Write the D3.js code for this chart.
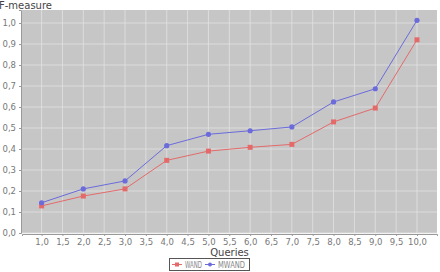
<!DOCTYPE html>
<html><head><meta charset="utf-8">
<script src="https://cdn.jsdelivr.net/npm/d3@7"></script>
<style>body{margin:0;background:#fff;}svg{display:block;}text{font-family:"DejaVu Sans",sans-serif;}</style>
</head><body>
<svg id="c" width="440" height="272"></svg>
<script>
const queries = [1,2,3,4,5,6,7,8,9,10];
const wand  = [0.129,0.176,0.210,0.346,0.390,0.408,0.422,0.529,0.595,0.920];
const mwand = [0.144,0.210,0.248,0.416,0.470,0.487,0.505,0.624,0.687,1.013];
const xTicks = [1,1.5,2,2.5,3,3.5,4,4.5,5,5.5,6,6.5,7,7.5,8,8.5,9,9.5,10];
const yTicks = [0,0.1,0.2,0.3,0.4,0.5,0.6,0.7,0.8,0.9,1.0];
const seriesNames = ["WAND","MWAND"];

const svg = d3.select("#c");
const L=22, R=437, T=10, B=233;
const x = d3.scaleLinear().domain([0.53,10.48]).range([L,R]);
const y = d3.scaleLinear().domain([0,1.062]).range([B,T]);
const fmt = v => d3.format(".1f")(v).replace(".",",");
const red="#e46a6a", blue="#6b6bdc";

svg.append("rect").attr("x",L).attr("y",T).attr("width",R-L).attr("height",B-T).attr("fill","#c6c6c6");
// grid
svg.append("g").selectAll("line").data(xTicks).join("line")
  .attr("x1",d=>x(d)).attr("x2",d=>x(d)).attr("y1",T).attr("y2",B)
  .attr("stroke","#e2e2e2").attr("stroke-width",0.8);
svg.append("g").selectAll("line").data(yTicks).join("line")
  .attr("y1",d=>y(d)).attr("y2",d=>y(d)).attr("x1",L).attr("x2",R)
  .attr("stroke","#e2e2e2").attr("stroke-width",0.8);

// axes
const xa = svg.append("g").attr("transform",`translate(0,${B+1})`)
  .call(d3.axisBottom(x).tickValues(xTicks).tickFormat(fmt).tickSize(2).tickPadding(3));
const ya = svg.append("g").attr("transform",`translate(${L-1},0)`)
  .call(d3.axisLeft(y).tickValues(yTicks).tickFormat(fmt).tickSize(2).tickPadding(3));
[xa,ya].forEach(a=>{
  a.select(".domain").attr("stroke","#999");
  a.selectAll(".tick line").attr("stroke","#999");
  a.selectAll("text").attr("fill","#777").style("font-size","8.5px");
});

// lines
const line = d3.line().x((d,i)=>x(queries[i])).y(d=>y(d));
svg.append("path").datum(wand).attr("d",line).attr("fill","none").attr("stroke",red).attr("stroke-width",1);
svg.append("path").datum(mwand).attr("d",line).attr("fill","none").attr("stroke",blue).attr("stroke-width",1);
svg.append("g").selectAll("rect").data(wand).join("rect")
  .attr("x",(d,i)=>x(queries[i])-2.5).attr("y",d=>y(d)-2.5).attr("width",5).attr("height",5).attr("fill",red);
svg.append("g").selectAll("circle").data(mwand).join("circle")
  .attr("cx",(d,i)=>x(queries[i])).attr("cy",d=>y(d)).attr("r",2.6).attr("fill",blue);

// titles
svg.append("text").attr("x",-1).attr("y",9).text("F-measure").attr("fill","#444").style("font-size","10px");
svg.append("text").attr("x",(L+R)/2).attr("y",256).attr("text-anchor","middle").text("Queries").attr("fill","#444").style("font-size","10px");

// legend
const lg = svg.append("g");
lg.append("rect").attr("x",169.5).attr("y",258.5).attr("width",80).attr("height",12).attr("fill","#fff").attr("stroke","#555");
const items=[{n:seriesNames[0],c:red,x:172,tx:185,tl:17},{n:seriesNames[1],c:blue,x:205,tx:218,tl:27}];
items.forEach((it,i)=>{
  lg.append("line").attr("x1",it.x).attr("x2",it.x+10).attr("y1",264.5).attr("y2",264.5).attr("stroke",it.c);
  if(i===0) lg.append("rect").attr("x",it.x+3).attr("y",262.5).attr("width",4).attr("height",4).attr("fill",it.c);
  else lg.append("circle").attr("cx",it.x+5).attr("cy",264.5).attr("r",2).attr("fill",it.c);
  lg.append("text").attr("x",it.tx).attr("y",268).text(it.n).attr("fill","#888")
    .attr("textLength",it.tl).attr("lengthAdjust","spacingAndGlyphs").style("font-size","8.5px");
});
</script>
</body></html>
